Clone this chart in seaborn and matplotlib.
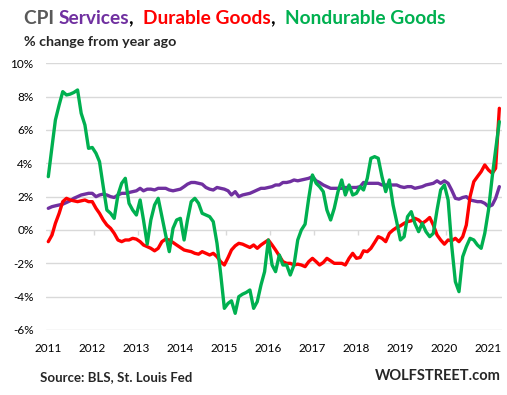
import pandas as pd
import matplotlib
matplotlib.use("Agg")
import matplotlib.pyplot as plt
import matplotlib.dates as mdates
import seaborn as sns

# monthly YoY % change, Jan 2011 - Apr 2021
months = pd.date_range("2011-01-01", "2021-04-01", freq="MS")

services = [
    1.3, 1.4, 1.45, 1.5, 1.55, 1.65, 1.75, 1.9, 2.0, 2.1, 2.15, 2.2,       # 2011
    2.2, 2.0, 2.1, 2.15, 2.1, 2.0, 1.95, 2.1, 2.2, 2.2, 2.25, 2.3,         # 2012
    2.35, 2.5, 2.35, 2.45, 2.45, 2.4, 2.5, 2.5, 2.5, 2.4, 2.35, 2.4,       # 2013
    2.45, 2.6, 2.75, 2.85, 2.85, 2.8, 2.75, 2.55, 2.45, 2.4, 2.55, 2.5,    # 2014
    2.45, 2.35, 2.1, 2.3, 2.0, 2.1, 2.15, 2.2, 2.3, 2.4, 2.5, 2.5,         # 2015
    2.55, 2.6, 2.7, 2.7, 2.85, 2.85, 2.9, 3.0, 2.95, 3.0, 3.05, 3.1,       # 2016
    3.2, 2.95, 2.85, 2.7, 2.6, 2.5, 2.5, 2.5, 2.5, 2.55, 2.55, 2.55,       # 2017
    2.55, 2.6, 2.85, 2.8, 2.8, 2.8, 2.8, 2.7, 2.7, 2.7, 2.7, 2.7,          # 2018
    2.6, 2.55, 2.6, 2.6, 2.5, 2.55, 2.6, 2.7, 2.75, 2.8, 2.95, 2.8,        # 2019
    2.95, 2.8, 2.4, 1.9, 1.85, 1.95, 2.0, 1.8, 1.75, 1.7, 1.7, 1.6,        # 2020
    1.4, 1.5, 1.9, 2.6,                                                    # 2021
]

durable = [
    -0.7, -0.3, 0.4, 1.0, 1.7, 1.9, 1.8, 1.75, 1.7, 1.75, 1.8, 1.7,
    1.7, 1.3, 1.0, 0.6, 0.3, 0.1, -0.2, -0.6, -0.7, -0.6, -0.6, -0.5,
    -0.55, -0.7, -0.9, -1.0, -1.1, -1.25, -1.1, -0.7, -0.55, -0.6, -0.75, -0.9,
    -1.05, -1.2, -1.25, -1.3, -1.4, -1.45, -1.3, -1.4, -1.5, -1.4, -1.6, -1.9,
    -2.1, -1.65, -1.2, -0.95, -0.8, -0.85, -0.95, -1.05, -0.9, -1.1, -0.9, -0.75,
    -0.6, -0.9, -1.2, -1.55, -1.9, -2.0, -2.0, -2.1, -2.05, -2.1, -2.2, -1.9,
    -1.7, -1.9, -2.1, -1.95, -1.7, -1.85, -2.0, -2.0, -2.0, -2.1, -1.7, -1.4,
    -1.7, -1.65, -1.25, -1.3, -1.1, -0.75, -0.4, -0.5, -0.7, -0.2, 0.0, 0.15,
    0.25, 0.4, 0.5, 0.55, 0.7, 0.6, 0.4, 0.55, 0.75, 0.3, -0.3, -0.6,
    -0.85, -0.6, -0.65, -0.5, -0.7, -0.4, 0.3, 2.0, 2.9, 3.2, 3.5, 3.9,
    3.6, 3.4, 3.7, 7.3,
]

nondurable = [
    3.2, 5.0, 6.6, 7.5, 8.3, 8.1, 8.15, 8.25, 8.4, 7.0, 6.3, 4.9,
    4.95, 4.6, 4.1, 2.6, 1.2, 1.0, 0.7, 2.1, 2.8, 3.1, 1.6, 1.2,
    0.9, 1.8, 0.6, -0.85, 0.6, 1.5, 1.9, 0.8, -0.3, -1.3, 0.1, 0.6,
    0.7, -0.6, 0.6, 1.7, 1.9, 1.6, 1.0, 0.9, 0.8, 0.5, -0.8, -2.6,
    -4.7, -4.4, -4.25, -5.0, -4.0, -3.85, -3.75, -3.6, -4.7, -4.3, -3.3, -2.5,
    -0.6, -2.1, -2.5, -1.5, -2.1, -2.1, -2.7, -2.1, -0.6, 0.0, 0.35, 1.9,
    3.3, 2.8, 2.6, 2.3, 1.2, 0.6, 1.3, 2.3, 3.0, 2.1, 2.7, 2.1,
    2.2, 2.6, 2.4, 3.1, 4.3, 4.4, 4.3, 3.2, 2.3, 3.0, 1.5, 0.5,
    -0.6, -0.4, 0.8, 1.1, 0.4, -0.1, 0.4, -0.1, -0.4, -0.2, 1.2, 2.4,
    2.7, 1.8, -0.9, -3.1, -3.7, -1.6, -1.0, -0.5, -0.6, -0.9, -1.1, -0.2,
    1.2, 3.2, 4.8, 6.5,
]

series_names = ["CPI Services", "Durable Goods", "Nondurable Goods"]
colors = ["#7030A0", "#FF0000", "#00B050"]

df = pd.DataFrame({
    "date": months,
    "CPI Services": services,
    "Durable Goods": durable,
    "Nondurable Goods": nondurable,
}).melt(id_vars="date", var_name="series", value_name="pct")

sns.set_theme(style="white")
plt.rcParams["font.family"] = ["Lato", "DejaVu Sans"]

W, H = 507, 395
fig = plt.figure(figsize=(W / 100, H / 100), dpi=100)
ax = fig.add_axes([46 / W, 65 / H, 456 / W, 266.7 / H])

# gridlines
for v in range(-6, 11, 2):
    ax.axhline(v, color="#d9d9d9", lw=1.0, zorder=0)

# year boundary tick marks on the zero line
bounds = pd.date_range("2010-12-16", "2020-12-16", freq="12MS") + pd.Timedelta(days=15)
ax.vlines(bounds, -0.28, 0, color="#d9d9d9", lw=1.0, zorder=0)

sns.lineplot(data=df, x="date", y="pct", hue="series", hue_order=series_names,
             palette=colors, linewidth=2.4, legend=False, ax=ax, zorder=3)

ax.set_ylim(-6, 10)
ax.set_xlim(pd.Timestamp("2010-12-13"), pd.Timestamp("2021-04-23"))
ax.set_yticks(range(-6, 11, 2))
ax.set_yticklabels([f"{v}%" for v in range(-6, 11, 2)])
years = pd.date_range("2011-01-01", "2021-01-01", freq="YS")
ax.set_xticks(years)
ax.xaxis.set_major_formatter(mdates.DateFormatter("%Y"))
ax.tick_params(axis="both", length=0, labelsize=8.5, colors="black")
ax.tick_params(axis="y", pad=9)
ax.tick_params(axis="x", pad=9)
ax.set_xlabel("")
ax.set_ylabel("")
for s in ax.spines.values():
    s.set_visible(False)

# multi-coloured title
renderer = fig.canvas.get_renderer()
parts = [("CPI ", "#595959"), ("Services", "#7030A0"), (",  ", "black"),
         ("Durable Goods", "#FF0000"), (",  ", "black"), ("Nondurable Goods", "#00B050")]
x = 24
for txt, col in parts:
    t = fig.text(x / W, 1 - 19 / H, txt, color=col, fontsize=13.8, fontweight="bold",
                 va="center", ha="left")
    bb = t.get_window_extent(renderer=renderer)
    x += bb.width

fig.text(24 / W, 1 - 42 / H, "% change from year ago", fontsize=10.3,
         fontweight="bold", va="center", ha="left")
fig.text(40 / W, 1 - 377 / H, "Source: BLS, St. Louis Fed", fontsize=9.5,
         fontweight="bold", va="center", ha="left")
fig.text(501 / W, 1 - 376 / H, "WOLFSTREET.com", fontsize=10.5,
         fontweight="bold", va="center", ha="right")

fig.savefig("out.png", dpi=100)
